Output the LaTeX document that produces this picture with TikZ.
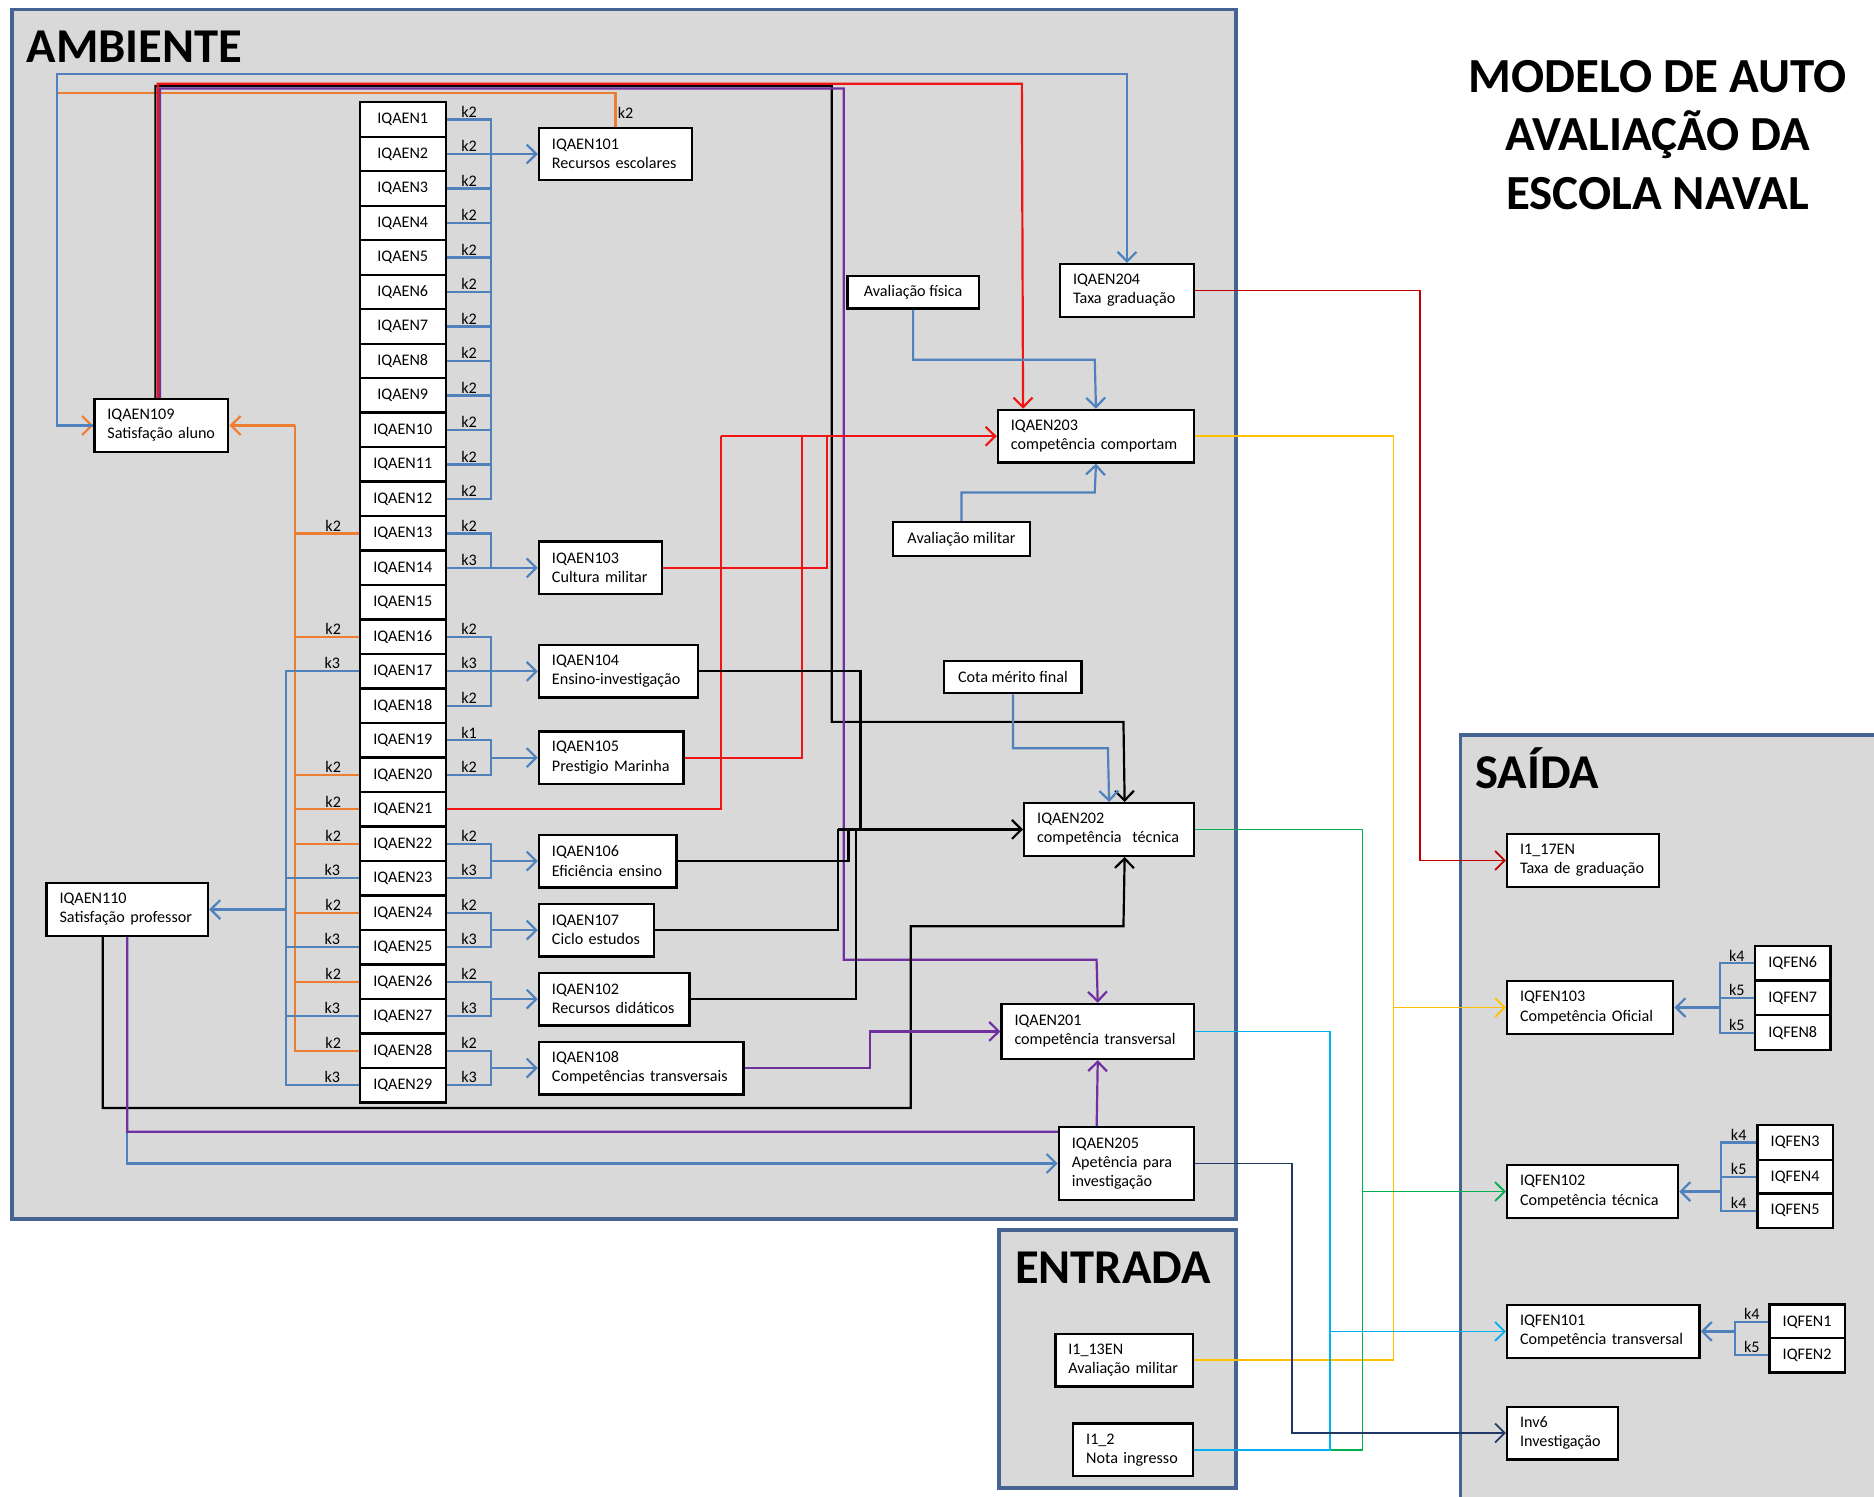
\documentclass[tikz,border=0pt]{standalone}
\usepackage{fontspec}
\setmainfont{Carlito}
\usetikzlibrary{arrows.meta,calc,positioning}

\definecolor{lnblue}{RGB}{79,129,189}
\definecolor{lnorange}{RGB}{237,125,49}
\definecolor{lnred}{RGB}{240,20,20}
\definecolor{lndred}{RGB}{192,0,0}
\definecolor{lnpurple}{RGB}{112,48,160}
\definecolor{lnyellow}{RGB}{255,192,0}
\definecolor{lngreen}{RGB}{0,176,80}
\definecolor{lncyan}{RGB}{0,176,240}
\definecolor{lnnavy}{RGB}{31,56,100}
\definecolor{zoneedge}{RGB}{70,100,145}
\definecolor{zonefill}{RGB}{217,217,217}

\newcommand{\nodefont}{\fontsize{8.1}{9.6}\selectfont}

\pgfdeclarelayer{bg}
\pgfdeclarelayer{wires}
\pgfsetlayers{bg,wires,main}

\tikzset{
  zone/.style={draw=zoneedge,line width=1.8pt,fill=zonefill},
  zonetitle/.style={font=\bfseries\fontsize{24.4}{29}\selectfont,anchor=base west,inner sep=0pt},
  tbox/.style={draw=black,line width=1.2pt,fill=white,align=left,anchor=west,
    inner xsep=6.5pt,inner ysep=0pt,minimum height=26.4pt,font=\nodefont},
  cbox/.style={draw=black,line width=1.2pt,fill=white,inner sep=0pt,font=\nodefont},
  ibox/.style={cbox,minimum width=43.2pt,minimum height=17.3pt},
  fbox/.style={cbox,minimum width=37.8pt,minimum height=17.4pt},
  kl/.style={font=\nodefont,inner sep=0.6pt,above},
  lblue/.style={draw=lnblue,line width=1.1pt},
  lorange/.style={draw=lnorange,line width=1.1pt},
  lred/.style={draw=lnred,line width=1.1pt},
  ldred/.style={draw=lndred,line width=0.9pt},
  lblack/.style={draw=black,line width=1.1pt},
  lpurple/.style={draw=lnpurple,line width=1.1pt},
  lyellow/.style={draw=lnyellow,line width=0.9pt},
  lgreen/.style={draw=lngreen,line width=0.9pt},
  lcyan/.style={draw=lncyan,line width=0.9pt},
  lnavy/.style={draw=lnnavy,line width=0.9pt}
}

\begin{document}
\begin{tikzpicture}[x=0.6pt,y=-0.6pt,>={Straight Barb[length=4.8pt,width=9.5pt]}]
\useasboundingbox (0,0) rectangle (1568,1252);

\begin{pgfonlayer}{bg}
  \draw[zone] (10,8) rectangle (1034,1020);
  \draw[zone] (836,1029) rectangle (1034,1245);
  \draw[zone] (1222,615) rectangle (1600,1290);
\end{pgfonlayer}

\node[zonetitle] (tamb) at (22,52) {AMBIENTE};
\node[zonetitle] (tent) at (849,1074) {ENTRADA};
\node[zonetitle] (tsai) at (1234,660) {SAÍDA};
\node[font=\bfseries\fontsize{24.6}{29.4}\selectfont,align=center,inner sep=0pt] (title)
  at (1387,113) {MODELO DE AUTO\\AVALIAÇÃO DA\\ESCOLA NAVAL};

\foreach \i in {1,...,29}
  \node[ibox] (q\i) at (337,{100+(\i-1)*28.86}) {IQAEN\i};

\node[tbox,text width=63.8pt] (i101) at ($(q2.east)+(76,0)$) {IQAEN101\\Recursos escolares};
\node[tbox,text width=48.8pt] (i103) at ($(q14.east)+(76,0)$) {IQAEN103\\Cultura militar};
\node[tbox,text width=66.8pt] (i104) at ($(q17.east)+(76,0)$) {IQAEN104\\Ensino-investigação};
\node[tbox,text width=59.6pt] (i105) at ($(q19.east)!.5!(q20.east)+(76,0)$) {IQAEN105\\Prestigio Marinha};
\node[tbox,text width=56pt] (i106) at ($(q22.east)!.5!(q23.east)+(76,0)$) {IQAEN106\\Eficiência ensino};
\node[tbox,text width=44.6pt] (i107) at ($(q24.east)!.5!(q25.east)+(76,0)$) {IQAEN107\\Ciclo estudos};
\node[tbox,text width=62.6pt] (i102) at ($(q26.east)!.5!(q27.east)+(76,0)$) {IQAEN102\\Recursos didáticos};
\node[tbox,text width=89.6pt] (i108) at ($(q28.east)!.5!(q29.east)+(76,0)$) {IQAEN108\\Competências transversais};

\node[tbox,text width=54.2pt] (i109) at (78,356) {IQAEN109\\Satisfação aluno};
\node[tbox,text width=68pt] (i110) at (38,761) {IQAEN110\\Satisfação professor};

\node[cbox,minimum width=66pt,minimum height=16.2pt] (af) at (764,244.5) {Avaliação física};
\node[cbox,minimum width=69pt,minimum height=16.8pt] (am) at (804.5,451) {Avaliação militar};
\node[cbox,minimum width=69pt,minimum height=16.2pt] (cm) at (847.5,566.5) {Cota mérito final};

\node[tbox,text width=54.2pt] (i204) at (886,243) {IQAEN204\\Taxa graduação};
\node[tbox,text width=85.4pt] (i203) at (834,365) {IQAEN203\\competência comportam};
\node[tbox,text width=72.2pt] (i202) at (856,694) {IQAEN202\\competência~ técnica};
\node[tbox,text width=83.6pt,minimum height=27.6pt] (i201) at (837,863) {IQAEN201\\competência transversal};
\node[tbox,text width=54.8pt,minimum height=36.6pt] (i205) at (885,973.5) {IQAEN205\\Apetência para\\investigação};

\node[tbox,text width=56pt] (e13) at (882,1138) {I1\_13EN\\Avaliação militar};
\node[tbox,text width=47pt] (e2) at (897,1213) {I1\_2\\Nota ingresso};

\node[tbox,text width=63.2pt] (t17) at (1260,720) {I1\_17EN\\Taxa de graduação};
\node[tbox,text width=70.4pt] (f103) at (1260,843) {IQFEN103\\Competência Oficial};
\node[tbox,text width=72.8pt] (f102) at (1260,997) {IQFEN102\\Competência técnica};
\node[tbox,text width=83.6pt] (f101) at (1260,1114) {IQFEN101\\Competência transversal};
\node[tbox,text width=42.8pt] (inv) at (1260,1199) {Inv6\\Investigação};

\node[fbox] (f6) at (1500,806) {IQFEN6};
\node[fbox] (f7) at (1500,835) {IQFEN7};
\node[fbox] (f8) at (1500,864) {IQFEN8};
\node[fbox] (f3) at (1502,956) {IQFEN3};
\node[fbox] (f4) at (1502,985) {IQFEN4};
\node[fbox] (f5) at (1502,1013) {IQFEN5};
\node[fbox] (f1) at (1512,1106) {IQFEN1};
\node[fbox] (f2) at (1512,1134) {IQFEN2};

\coordinate (b101) at ($(i101.west)+(-39,0)$);
\coordinate (b103) at ($(i103.west)+(-39,0)$);
\coordinate (b104) at ($(i104.west)+(-39,0)$);
\coordinate (b105) at ($(i105.west)+(-39,0)$);
\coordinate (b106) at ($(i106.west)+(-39,0)$);
\coordinate (b107) at ($(i107.west)+(-39,0)$);
\coordinate (b102) at ($(i102.west)+(-39,0)$);
\coordinate (b108) at ($(i108.west)+(-39,0)$);
\coordinate (o109) at ($(i109.east)+(55,0)$);
\coordinate (b110) at ($(i110.east)+(64,0)$);
\coordinate (bf103) at ($(f103.east)+(38,0)$);
\coordinate (bf102) at ($(f102.east)+(35,0)$);
\coordinate (bf101) at ($(f101.east)+(29,0)$);

\begin{pgfonlayer}{wires}
  % indicadores -> IQAEN1xx
  \foreach \i in {1,...,12}
    \draw[lblue] (q\i.east) -| node[kl,pos=.25]{k2} (b101);
  \foreach \i/\k in {13/2,14/3}
    \draw[lblue] (q\i.east) -| node[kl,pos=.25]{k\k} (b103);
  \foreach \i/\k in {16/2,17/3,18/2}
    \draw[lblue] (q\i.east) -| node[kl,pos=.25]{k\k} (b104);
  \foreach \i/\k in {19/1,20/2}
    \draw[lblue] (q\i.east) -| node[kl,pos=.25]{k\k} (b105);
  \foreach \i/\k in {22/2,23/3}
    \draw[lblue] (q\i.east) -| node[kl,pos=.25]{k\k} (b106);
  \foreach \i/\k in {24/2,25/3}
    \draw[lblue] (q\i.east) -| node[kl,pos=.25]{k\k} (b107);
  \foreach \i/\k in {26/2,27/3}
    \draw[lblue] (q\i.east) -| node[kl,pos=.25]{k\k} (b102);
  \foreach \i/\k in {28/2,29/3}
    \draw[lblue] (q\i.east) -| node[kl,pos=.25]{k\k} (b108);
  \foreach \n in {101,103,104,105,106,107,102,108}
    \draw[lblue,->] (b\n) -- (i\n.west);

  % satisfacao
  \foreach \i in {13,16,20,21,22,24,26,28}
    \draw[lorange] (q\i.west) -| node[kl,pos=.2]{k2} (o109);
  \draw[lorange,->] (o109) -- (i109.east);
  \foreach \i in {17,23,25,27,29}
    \draw[lblue] (q\i.west) -| node[kl,pos=.18]{k3} (b110);
  \draw[lblue,->] (b110) -- (i110.east);

  % ligacoes de topo
  \draw[lorange,->] (i101.north) |- node[kl,pos=.2,right]{k2} (48,78) |- (i109.west);
  \draw[lblue,->] (i109.west) -| (48,62) -| (i204.north);
  \draw[lblack,->] ([xshift=-3pt]i109.north) |- (696,72) |- (940,604) -- ([xshift=7.8pt]i202.north);
  \draw[lpurple,->] ([xshift=-0.6pt]i109.north) |- (706,74) |- (917.5,803) -- (i201.north);
  \draw[lred,->] ([xshift=-1.8pt]i109.north) |- (855,70) -- ([xshift=-36.6pt]i203.north);

  % IQAEN203
  \draw[lred] (q21.east) -| (603,365);
  \draw[lred] (i105.east) -| (671,365);
  \draw[lred] (i103.east) -| (692,365);
  \draw[lred,->] (603,365) -- (i203.west);
  \draw[lblue,->] (af.south) |- (916,301) -- (i203.north);
  \draw[lblue,->] (am.north) |- (916,412) -- (i203.south);

  % IQAEN202
  \draw[lblack] (i106.east) -| (710,694);
  \draw[lblack] (i107.east) -| (701,694);
  \draw[lblack] (i102.east) -| (716,694);
  \draw[lblack,->] (i104.east) -| (720,694) -- (i202.west);
  \draw[lblack] (701,694) -- (720,694);
  \draw[lblue,->] (cm.south) |- (927,626) -- (i202.north);
  \draw[lblack,->] ([xshift=-12.3pt]i110.south) |- (762,927) |- (940,775) -- ([xshift=7.8pt]i202.south);

  % IQAEN201 / IQAEN205
  \draw[lpurple,->] (i108.east) -| (728,863) -- (i201.west);
  \draw[lblue,->] (i110.south) |- (i205.west);
  \draw[lpurple,->] (i110.south) |- (917.5,947) -- (i201.south);

  % saida
  \draw[ldred,->] (i204.east) -| (1188,720) -- (t17.west);
  \draw[lyellow,->] (i203.east) -| (1166,843) -- (f103.west);
  \draw[lyellow] (e13.east) -| (1166,843);
  \draw[lgreen,->] (i202.east) -| (1140,997) -- (f102.west);
  \draw[lgreen] (e2.east) -| (1140,997);
  \draw[lcyan,->] (i201.east) -| (1113,1114) -- (f101.west);
  \draw[lcyan] (e2.east) -| (1113,1114);
  \draw[lnavy,->] (i205.east) -| (1081,1199) -- (inv.west);

  % IQFEN
  \foreach \f/\k in {6/4,7/5,8/5}
    \draw[lblue] (f\f.west) -| node[kl,pos=.25]{k\k} (bf103);
  \foreach \f/\k in {3/4,4/5,5/4}
    \draw[lblue] (f\f.west) -| node[kl,pos=.25]{k\k} (bf102);
  \foreach \f/\k in {1/4,2/5}
    \draw[lblue] (f\f.west) -| node[kl,pos=.25]{k\k} (bf101);
  \draw[lblue,->] (bf103) -- (f103.east);
  \draw[lblue,->] (bf102) -- (f102.east);
  \draw[lblue,->] (bf101) -- (f101.east);
\end{pgfonlayer}

\end{tikzpicture}
\end{document}
